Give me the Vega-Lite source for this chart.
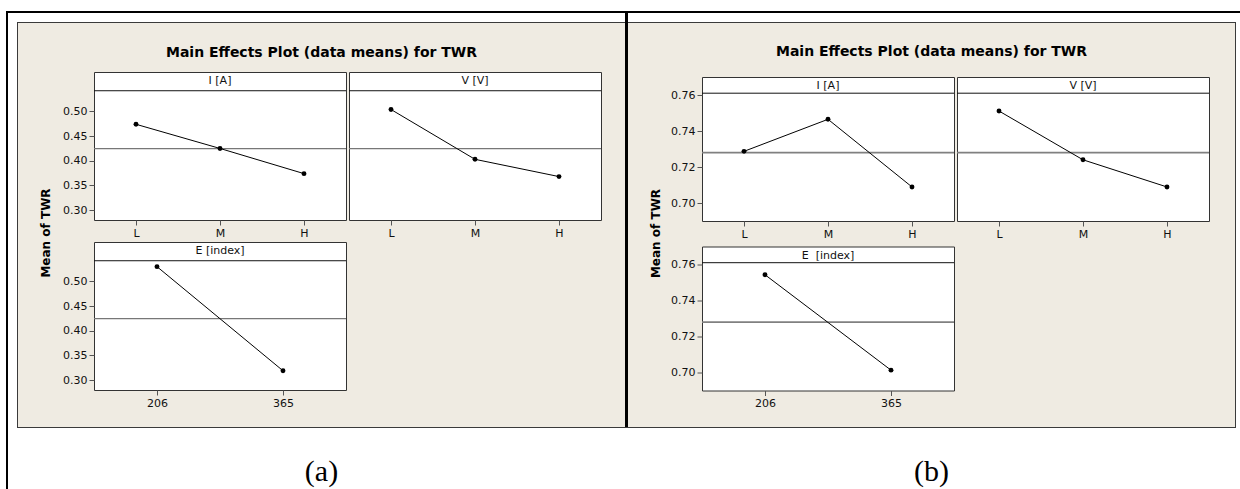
{
  "$schema": "https://vega.github.io/schema/vega-lite/v6.json",
  "padding": 0,
  "background": "#efebe2",
  "config": {"view": {"stroke": null}, "font": "DejaVu Sans"},
  "datasets": {
    "a": [
      {"factor": "I", "level": "L", "twr": 0.474},
      {"factor": "I", "level": "M", "twr": 0.425},
      {"factor": "I", "level": "H", "twr": 0.374},
      {"factor": "V", "level": "L", "twr": 0.504},
      {"factor": "V", "level": "M", "twr": 0.403},
      {"factor": "V", "level": "H", "twr": 0.368},
      {"factor": "E", "level": "206", "twr": 0.530},
      {"factor": "E", "level": "365", "twr": 0.319}
    ],
    "b": [
      {"factor": "I", "level": "L", "twr": 0.7287},
      {"factor": "I", "level": "M", "twr": 0.7465},
      {"factor": "I", "level": "H", "twr": 0.7089},
      {"factor": "V", "level": "L", "twr": 0.7511},
      {"factor": "V", "level": "M", "twr": 0.7240},
      {"factor": "V", "level": "H", "twr": 0.7089},
      {"factor": "E", "level": "206", "twr": 0.7543},
      {"factor": "E", "level": "365", "twr": 0.7013}
    ],
    "means": [{"fig": "a", "mean": 0.4245}, {"fig": "b", "mean": 0.728}]
  },
  "spacing": 0,
  "vconcat": [
    {"width": 1240, "height": 11, "view": {"fill": "#ffffff"}, "data": {"values": []}, "mark": "point", "encoding": {}},
    {"spacing": 0, "hconcat": [
      {"width": 6, "height": 2, "view": {"fill": "#ffffff"}, "data": {"values": []}, "mark": "point", "encoding": {}},
      {"width": 1234, "height": 2, "view": {"fill": "#000000"}, "data": {"values": []}, "mark": "point", "encoding": {}}
    ]},
    {"spacing": 0, "hconcat": [
      {"width": 6, "height": 9, "view": {"fill": "#ffffff"}, "data": {"values": []}, "mark": "point", "encoding": {}},
      {"width": 2, "height": 9, "view": {"fill": "#000000"}, "data": {"values": []}, "mark": "point", "encoding": {}},
      {"width": 617, "height": 9, "view": {"fill": "#ffffff"}, "data": {"values": []}, "mark": "point", "encoding": {}},
      {"width": 3, "height": 9, "view": {"fill": "#000000"}, "data": {"values": []}, "mark": "point", "encoding": {}},
      {"width": 612, "height": 9, "view": {"fill": "#ffffff"}, "data": {"values": []}, "mark": "point", "encoding": {}}
    ]},
    {"spacing": 0, "hconcat": [
      {"width": 6, "height": 1, "view": {"fill": "#ffffff"}, "data": {"values": []}, "mark": "point", "encoding": {}},
      {"width": 2, "height": 1, "view": {"fill": "#000000"}, "data": {"values": []}, "mark": "point", "encoding": {}},
      {"width": 9, "height": 1, "view": {"fill": "#ffffff"}, "data": {"values": []}, "mark": "point", "encoding": {}},
      {"width": 608, "height": 1, "view": {"fill": "#3a3a3a"}, "data": {"values": []}, "mark": "point", "encoding": {}},
      {"width": 3, "height": 1, "view": {"fill": "#000000"}, "data": {"values": []}, "mark": "point", "encoding": {}},
      {"width": 608, "height": 1, "view": {"fill": "#3a3a3a"}, "data": {"values": []}, "mark": "point", "encoding": {}},
      {"width": 4, "height": 1, "view": {"fill": "#ffffff"}, "data": {"values": []}, "mark": "point", "encoding": {}}
    ]},
    {"spacing": 0, "hconcat": [
      {"width": 6, "height": 404, "view": {"fill": "#ffffff"}, "data": {"values": []}, "mark": "point", "encoding": {}},
      {"width": 2, "height": 404, "view": {"fill": "#000000"}, "data": {"values": []}, "mark": "point", "encoding": {}},
      {"width": 9, "height": 404, "view": {"fill": "#ffffff"}, "data": {"values": []}, "mark": "point", "encoding": {}},
      {"width": 1, "height": 404, "view": {"fill": "#3a3a3a"}, "data": {"values": []}, "mark": "point", "encoding": {}},
      {"spacing": 0, "vconcat": [
        {"width": 607, "height": 47.5, "data": {"values": [{"label": "Main Effects Plot (data means) for TWR"}]}, "mark": {"type": "text", "font": "DejaVu Sans", "fontSize": 14, "fontWeight": "bold", "color": "#000", "baseline": "middle", "dy": 6}, "encoding": {"text": {"field": "label", "type": "nominal"}}},
        {"spacing": 0, "hconcat": [
          {"width": 22, "height": 1, "data": {"values": []}, "mark": "point", "encoding": {}},
          {"spacing": 10, "hconcat": [
            {"width": 12, "height": 322, "data": {"values": [{"label": "Mean of TWR"}]}, "mark": {"type": "text", "angle": 270, "font": "DejaVu Sans", "fontSize": 12, "fontWeight": "bold", "color": "#000", "baseline": "middle", "align": "center"}, "encoding": {"text": {"field": "label", "type": "nominal"}}},
            {
            "spacing": 2,
            "vconcat": [
              {"spacing": -1, "hconcat": [
                {
                  "width": 252, "height": 148,
                  "view": {"stroke": "#333", "strokeWidth": 1, "fill": "white"},
                  "title": {"text": "I [A]", "orient": "top", "anchor": "middle", "frame": "group", "offset": -14, "font": "DejaVu Sans", "fontSize": 11, "fontWeight": "normal", "color": "#111"},
                  "layer": [
                    {"data": {"name": "means"}, "transform": [{"filter": "datum.fig === 'a'"}], "mark": {"type": "rule", "color": "#777", "strokeWidth": 1.3}, "encoding": {"y": {"field": "mean", "type": "quantitative", "scale": {"domain": [0.297, 0.573]}, "axis": {"values": [0.3, 0.35, 0.4, 0.45, 0.5], "format": ".2f", "title": null, "grid": false, "domain": false, "tickSize": 5, "tickColor": "#555", "labelFont": "DejaVu Sans", "labelFontSize": 11, "labelColor": "#111", "labelPadding": 2}}}},
                    {"data": {"name": "means"}, "transform": [{"filter": "datum.fig === 'a'"}], "mark": {"type": "rule", "color": "#111", "strokeWidth": 1}, "encoding": {"y": {"datum": 0.542, "type": "quantitative", "axis": {"values": [0.3, 0.35, 0.4, 0.45, 0.5], "format": ".2f", "title": null, "grid": false, "domain": false, "tickSize": 5, "tickColor": "#555", "labelFont": "DejaVu Sans", "labelFontSize": 11, "labelColor": "#111", "labelPadding": 2}}}},
                    {"data": {"name": "a"}, "transform": [{"filter": "datum.factor === 'I'"}], "mark": {"type": "line", "color": "#000", "strokeWidth": 1}, "encoding": {"x": {"field": "level", "type": "nominal", "sort": ["L", "M", "H"], "axis": {"title": null, "labelAngle": 0, "grid": false, "domain": false, "tickSize": 5, "tickColor": "#555", "labelFont": "DejaVu Sans", "labelFontSize": 11, "labelColor": "#111", "labelPadding": 2}}, "y": {"field": "twr", "type": "quantitative", "scale": {"domain": [0.297, 0.573]}, "axis": {"values": [0.3, 0.35, 0.4, 0.45, 0.5], "format": ".2f", "title": null, "grid": false, "domain": false, "tickSize": 5, "tickColor": "#555", "labelFont": "DejaVu Sans", "labelFontSize": 11, "labelColor": "#111", "labelPadding": 2}}}},
                    {"data": {"name": "a"}, "transform": [{"filter": "datum.factor === 'I'"}], "mark": {"type": "point", "filled": true, "color": "#000", "size": 24, "opacity": 1}, "encoding": {"x": {"field": "level", "type": "nominal", "sort": ["L", "M", "H"], "axis": {"title": null, "labelAngle": 0, "grid": false, "domain": false, "tickSize": 5, "tickColor": "#555", "labelFont": "DejaVu Sans", "labelFontSize": 11, "labelColor": "#111", "labelPadding": 2}}, "y": {"field": "twr", "type": "quantitative", "scale": {"domain": [0.297, 0.573]}, "axis": {"values": [0.3, 0.35, 0.4, 0.45, 0.5], "format": ".2f", "title": null, "grid": false, "domain": false, "tickSize": 5, "tickColor": "#555", "labelFont": "DejaVu Sans", "labelFontSize": 11, "labelColor": "#111", "labelPadding": 2}}}}
                  ]
                },
                {
                  "width": 252, "height": 148,
                  "view": {"stroke": "#333", "strokeWidth": 1, "fill": "white"},
                  "title": {"text": "V [V]", "orient": "top", "anchor": "middle", "frame": "group", "offset": -14, "font": "DejaVu Sans", "fontSize": 11, "fontWeight": "normal", "color": "#111"},
                  "layer": [
                    {"data": {"name": "means"}, "transform": [{"filter": "datum.fig === 'a'"}], "mark": {"type": "rule", "color": "#777", "strokeWidth": 1.3}, "encoding": {"y": {"field": "mean", "type": "quantitative", "scale": {"domain": [0.297, 0.573]}, "axis": null}}},
                    {"data": {"name": "means"}, "transform": [{"filter": "datum.fig === 'a'"}], "mark": {"type": "rule", "color": "#111", "strokeWidth": 1}, "encoding": {"y": {"datum": 0.542, "type": "quantitative", "axis": null}}},
                    {"data": {"name": "a"}, "transform": [{"filter": "datum.factor === 'V'"}], "mark": {"type": "line", "color": "#000", "strokeWidth": 1}, "encoding": {"x": {"field": "level", "type": "nominal", "sort": ["L", "M", "H"], "axis": {"title": null, "labelAngle": 0, "grid": false, "domain": false, "tickSize": 5, "tickColor": "#555", "labelFont": "DejaVu Sans", "labelFontSize": 11, "labelColor": "#111", "labelPadding": 2}}, "y": {"field": "twr", "type": "quantitative", "scale": {"domain": [0.297, 0.573]}, "axis": null}}},
                    {"data": {"name": "a"}, "transform": [{"filter": "datum.factor === 'V'"}], "mark": {"type": "point", "filled": true, "color": "#000", "size": 24, "opacity": 1}, "encoding": {"x": {"field": "level", "type": "nominal", "sort": ["L", "M", "H"], "axis": {"title": null, "labelAngle": 0, "grid": false, "domain": false, "tickSize": 5, "tickColor": "#555", "labelFont": "DejaVu Sans", "labelFontSize": 11, "labelColor": "#111", "labelPadding": 2}}, "y": {"field": "twr", "type": "quantitative", "scale": {"domain": [0.297, 0.573]}, "axis": null}}}
                  ]
                }
              ]},
              {
                "width": 252, "height": 148,
                "view": {"stroke": "#333", "strokeWidth": 1, "fill": "white"},
                "title": {"text": "E [index]", "orient": "top", "anchor": "middle", "frame": "group", "offset": -14, "font": "DejaVu Sans", "fontSize": 11, "fontWeight": "normal", "color": "#111"},
                "layer": [
                  {"data": {"name": "means"}, "transform": [{"filter": "datum.fig === 'a'"}], "mark": {"type": "rule", "color": "#777", "strokeWidth": 1.3}, "encoding": {"y": {"field": "mean", "type": "quantitative", "scale": {"domain": [0.297, 0.573]}, "axis": {"values": [0.3, 0.35, 0.4, 0.45, 0.5], "format": ".2f", "title": null, "grid": false, "domain": false, "tickSize": 5, "tickColor": "#555", "labelFont": "DejaVu Sans", "labelFontSize": 11, "labelColor": "#111", "labelPadding": 2}}}},
                  {"data": {"name": "means"}, "transform": [{"filter": "datum.fig === 'a'"}], "mark": {"type": "rule", "color": "#111", "strokeWidth": 1}, "encoding": {"y": {"datum": 0.542, "type": "quantitative", "axis": {"values": [0.3, 0.35, 0.4, 0.45, 0.5], "format": ".2f", "title": null, "grid": false, "domain": false, "tickSize": 5, "tickColor": "#555", "labelFont": "DejaVu Sans", "labelFontSize": 11, "labelColor": "#111", "labelPadding": 2}}}},
                  {"data": {"name": "a"}, "transform": [{"filter": "datum.factor === 'E'"}], "mark": {"type": "line", "color": "#000", "strokeWidth": 1}, "encoding": {"x": {"field": "level", "type": "nominal", "sort": ["206", "365"], "axis": {"title": null, "labelAngle": 0, "grid": false, "domain": false, "tickSize": 5, "tickColor": "#555", "labelFont": "DejaVu Sans", "labelFontSize": 11, "labelColor": "#111", "labelPadding": 2}}, "y": {"field": "twr", "type": "quantitative", "scale": {"domain": [0.297, 0.573]}, "axis": {"values": [0.3, 0.35, 0.4, 0.45, 0.5], "format": ".2f", "title": null, "grid": false, "domain": false, "tickSize": 5, "tickColor": "#555", "labelFont": "DejaVu Sans", "labelFontSize": 11, "labelColor": "#111", "labelPadding": 2}}}},
                  {"data": {"name": "a"}, "transform": [{"filter": "datum.factor === 'E'"}], "mark": {"type": "point", "filled": true, "color": "#000", "size": 24, "opacity": 1}, "encoding": {"x": {"field": "level", "type": "nominal", "sort": ["206", "365"], "axis": {"title": null, "labelAngle": 0, "grid": false, "domain": false, "tickSize": 5, "tickColor": "#555", "labelFont": "DejaVu Sans", "labelFontSize": 11, "labelColor": "#111", "labelPadding": 2}}, "y": {"field": "twr", "type": "quantitative", "scale": {"domain": [0.297, 0.573]}, "axis": {"values": [0.3, 0.35, 0.4, 0.45, 0.5], "format": ".2f", "title": null, "grid": false, "domain": false, "tickSize": 5, "tickColor": "#555", "labelFont": "DejaVu Sans", "labelFontSize": 11, "labelColor": "#111", "labelPadding": 2}}}}
                ]
              }
            ]
            }
          ]}
        ]}
      ]},
      {"width": 3, "height": 404, "view": {"fill": "#000000"}, "data": {"values": []}, "mark": "point", "encoding": {}},
      {"spacing": 0, "vconcat": [
        {"width": 607, "height": 52.5, "data": {"values": [{"label": "Main Effects Plot (data means) for TWR"}]}, "mark": {"type": "text", "font": "DejaVu Sans", "fontSize": 14, "fontWeight": "bold", "color": "#000", "baseline": "middle", "dy": 3}, "encoding": {"text": {"field": "label", "type": "nominal"}}},
        {"spacing": 0, "hconcat": [
          {"width": 22, "height": 1, "data": {"values": []}, "mark": "point", "encoding": {}},
          {"spacing": 8, "hconcat": [
            {"width": 12, "height": 313, "data": {"values": [{"label": "Mean of TWR"}]}, "mark": {"type": "text", "angle": 270, "font": "DejaVu Sans", "fontSize": 12, "fontWeight": "bold", "color": "#000", "baseline": "middle", "align": "center"}, "encoding": {"text": {"field": "label", "type": "nominal"}}},
            {
            "spacing": 5.5,
            "vconcat": [
              {"spacing": -1, "hconcat": [
                {
                  "width": 252, "height": 144,
                  "view": {"stroke": "#333", "strokeWidth": 1, "fill": "white"},
                  "title": {"text": "I [A]", "orient": "top", "anchor": "middle", "frame": "group", "offset": -14, "font": "DejaVu Sans", "fontSize": 11, "fontWeight": "normal", "color": "#111"},
                  "layer": [
                    {"data": {"name": "means"}, "transform": [{"filter": "datum.fig === 'b'"}], "mark": {"type": "rule", "color": "#808080", "strokeWidth": 1.6}, "encoding": {"y": {"field": "mean", "type": "quantitative", "scale": {"domain": [0.698, 0.769]}, "axis": {"values": [0.7, 0.72, 0.74, 0.76], "format": ".2f", "title": null, "grid": false, "domain": false, "tickSize": 5, "tickColor": "#555", "labelFont": "DejaVu Sans", "labelFontSize": 11, "labelColor": "#111", "labelPadding": 2}}}},
                    {"data": {"name": "means"}, "transform": [{"filter": "datum.fig === 'b'"}], "mark": {"type": "rule", "color": "#111", "strokeWidth": 1}, "encoding": {"y": {"datum": 0.761, "type": "quantitative", "axis": {"values": [0.7, 0.72, 0.74, 0.76], "format": ".2f", "title": null, "grid": false, "domain": false, "tickSize": 5, "tickColor": "#555", "labelFont": "DejaVu Sans", "labelFontSize": 11, "labelColor": "#111", "labelPadding": 2}}}},
                    {"data": {"name": "b"}, "transform": [{"filter": "datum.factor === 'I'"}], "mark": {"type": "line", "color": "#000", "strokeWidth": 1}, "encoding": {"x": {"field": "level", "type": "nominal", "sort": ["L", "M", "H"], "axis": {"title": null, "labelAngle": 0, "grid": false, "domain": false, "tickSize": 5, "tickColor": "#555", "labelFont": "DejaVu Sans", "labelFontSize": 11, "labelColor": "#111", "labelPadding": 2}}, "y": {"field": "twr", "type": "quantitative", "scale": {"domain": [0.698, 0.769]}, "axis": {"values": [0.7, 0.72, 0.74, 0.76], "format": ".2f", "title": null, "grid": false, "domain": false, "tickSize": 5, "tickColor": "#555", "labelFont": "DejaVu Sans", "labelFontSize": 11, "labelColor": "#111", "labelPadding": 2}}}},
                    {"data": {"name": "b"}, "transform": [{"filter": "datum.factor === 'I'"}], "mark": {"type": "point", "filled": true, "color": "#000", "size": 24, "opacity": 1}, "encoding": {"x": {"field": "level", "type": "nominal", "sort": ["L", "M", "H"], "axis": {"title": null, "labelAngle": 0, "grid": false, "domain": false, "tickSize": 5, "tickColor": "#555", "labelFont": "DejaVu Sans", "labelFontSize": 11, "labelColor": "#111", "labelPadding": 2}}, "y": {"field": "twr", "type": "quantitative", "scale": {"domain": [0.698, 0.769]}, "axis": {"values": [0.7, 0.72, 0.74, 0.76], "format": ".2f", "title": null, "grid": false, "domain": false, "tickSize": 5, "tickColor": "#555", "labelFont": "DejaVu Sans", "labelFontSize": 11, "labelColor": "#111", "labelPadding": 2}}}}
                  ]
                },
                {
                  "width": 252, "height": 144,
                  "view": {"stroke": "#333", "strokeWidth": 1, "fill": "white"},
                  "title": {"text": "V [V]", "orient": "top", "anchor": "middle", "frame": "group", "offset": -14, "font": "DejaVu Sans", "fontSize": 11, "fontWeight": "normal", "color": "#111"},
                  "layer": [
                    {"data": {"name": "means"}, "transform": [{"filter": "datum.fig === 'b'"}], "mark": {"type": "rule", "color": "#808080", "strokeWidth": 1.6}, "encoding": {"y": {"field": "mean", "type": "quantitative", "scale": {"domain": [0.698, 0.769]}, "axis": null}}},
                    {"data": {"name": "means"}, "transform": [{"filter": "datum.fig === 'b'"}], "mark": {"type": "rule", "color": "#111", "strokeWidth": 1}, "encoding": {"y": {"datum": 0.761, "type": "quantitative", "axis": null}}},
                    {"data": {"name": "b"}, "transform": [{"filter": "datum.factor === 'V'"}], "mark": {"type": "line", "color": "#000", "strokeWidth": 1}, "encoding": {"x": {"field": "level", "type": "nominal", "sort": ["L", "M", "H"], "axis": {"title": null, "labelAngle": 0, "grid": false, "domain": false, "tickSize": 5, "tickColor": "#555", "labelFont": "DejaVu Sans", "labelFontSize": 11, "labelColor": "#111", "labelPadding": 2}}, "y": {"field": "twr", "type": "quantitative", "scale": {"domain": [0.698, 0.769]}, "axis": null}}},
                    {"data": {"name": "b"}, "transform": [{"filter": "datum.factor === 'V'"}], "mark": {"type": "point", "filled": true, "color": "#000", "size": 24, "opacity": 1}, "encoding": {"x": {"field": "level", "type": "nominal", "sort": ["L", "M", "H"], "axis": {"title": null, "labelAngle": 0, "grid": false, "domain": false, "tickSize": 5, "tickColor": "#555", "labelFont": "DejaVu Sans", "labelFontSize": 11, "labelColor": "#111", "labelPadding": 2}}, "y": {"field": "twr", "type": "quantitative", "scale": {"domain": [0.698, 0.769]}, "axis": null}}}
                  ]
                }
              ]},
              {
                "width": 252, "height": 144,
                "view": {"stroke": "#333", "strokeWidth": 1, "fill": "white"},
                "title": {"text": "E\u00a0 [index]", "orient": "top", "anchor": "middle", "frame": "group", "offset": -14, "font": "DejaVu Sans", "fontSize": 11, "fontWeight": "normal", "color": "#111"},
                "layer": [
                  {"data": {"name": "means"}, "transform": [{"filter": "datum.fig === 'b'"}], "mark": {"type": "rule", "color": "#808080", "strokeWidth": 1.6}, "encoding": {"y": {"field": "mean", "type": "quantitative", "scale": {"domain": [0.698, 0.769]}, "axis": {"values": [0.7, 0.72, 0.74, 0.76], "format": ".2f", "title": null, "grid": false, "domain": false, "tickSize": 5, "tickColor": "#555", "labelFont": "DejaVu Sans", "labelFontSize": 11, "labelColor": "#111", "labelPadding": 2}}}},
                  {"data": {"name": "means"}, "transform": [{"filter": "datum.fig === 'b'"}], "mark": {"type": "rule", "color": "#111", "strokeWidth": 1}, "encoding": {"y": {"datum": 0.761, "type": "quantitative", "axis": {"values": [0.7, 0.72, 0.74, 0.76], "format": ".2f", "title": null, "grid": false, "domain": false, "tickSize": 5, "tickColor": "#555", "labelFont": "DejaVu Sans", "labelFontSize": 11, "labelColor": "#111", "labelPadding": 2}}}},
                  {"data": {"name": "b"}, "transform": [{"filter": "datum.factor === 'E'"}], "mark": {"type": "line", "color": "#000", "strokeWidth": 1}, "encoding": {"x": {"field": "level", "type": "nominal", "sort": ["206", "365"], "axis": {"title": null, "labelAngle": 0, "grid": false, "domain": false, "tickSize": 5, "tickColor": "#555", "labelFont": "DejaVu Sans", "labelFontSize": 11, "labelColor": "#111", "labelPadding": 2}}, "y": {"field": "twr", "type": "quantitative", "scale": {"domain": [0.698, 0.769]}, "axis": {"values": [0.7, 0.72, 0.74, 0.76], "format": ".2f", "title": null, "grid": false, "domain": false, "tickSize": 5, "tickColor": "#555", "labelFont": "DejaVu Sans", "labelFontSize": 11, "labelColor": "#111", "labelPadding": 2}}}},
                  {"data": {"name": "b"}, "transform": [{"filter": "datum.factor === 'E'"}], "mark": {"type": "point", "filled": true, "color": "#000", "size": 24, "opacity": 1}, "encoding": {"x": {"field": "level", "type": "nominal", "sort": ["206", "365"], "axis": {"title": null, "labelAngle": 0, "grid": false, "domain": false, "tickSize": 5, "tickColor": "#555", "labelFont": "DejaVu Sans", "labelFontSize": 11, "labelColor": "#111", "labelPadding": 2}}, "y": {"field": "twr", "type": "quantitative", "scale": {"domain": [0.698, 0.769]}, "axis": {"values": [0.7, 0.72, 0.74, 0.76], "format": ".2f", "title": null, "grid": false, "domain": false, "tickSize": 5, "tickColor": "#555", "labelFont": "DejaVu Sans", "labelFontSize": 11, "labelColor": "#111", "labelPadding": 2}}}}
                ]
              }
            ]
            }
          ]}
        ]}
      ]},
      {"width": 1, "height": 404, "view": {"fill": "#3a3a3a"}, "data": {"values": []}, "mark": "point", "encoding": {}},
      {"width": 4, "height": 404, "view": {"fill": "#ffffff"}, "data": {"values": []}, "mark": "point", "encoding": {}}
    ]},
    {"spacing": 0, "hconcat": [
      {"width": 6, "height": 1, "view": {"fill": "#ffffff"}, "data": {"values": []}, "mark": "point", "encoding": {}},
      {"width": 2, "height": 1, "view": {"fill": "#000000"}, "data": {"values": []}, "mark": "point", "encoding": {}},
      {"width": 9, "height": 1, "view": {"fill": "#ffffff"}, "data": {"values": []}, "mark": "point", "encoding": {}},
      {"width": 608, "height": 1, "view": {"fill": "#3a3a3a"}, "data": {"values": []}, "mark": "point", "encoding": {}},
      {"width": 3, "height": 1, "view": {"fill": "#3a3a3a"}, "data": {"values": []}, "mark": "point", "encoding": {}},
      {"width": 608, "height": 1, "view": {"fill": "#3a3a3a"}, "data": {"values": []}, "mark": "point", "encoding": {}},
      {"width": 4, "height": 1, "view": {"fill": "#ffffff"}, "data": {"values": []}, "mark": "point", "encoding": {}}
    ]},
    {"spacing": 0, "hconcat": [
      {"width": 6, "height": 61, "view": {"fill": "#ffffff"}, "data": {"values": []}, "mark": "point", "encoding": {}},
      {"width": 2, "height": 61, "view": {"fill": "#000000"}, "data": {"values": []}, "mark": "point", "encoding": {}},
      {"width": 10, "height": 61, "view": {"fill": "#ffffff"}, "data": {"values": []}, "mark": "point", "encoding": {}},
      {"width": 607, "height": 61, "view": {"fill": "#ffffff"}, "data": {"values": [{"label": "(a)"}]}, "mark": {"type": "text", "font": "Liberation Serif", "fontSize": 30, "color": "#000", "baseline": "middle", "dy": 13}, "encoding": {"text": {"field": "label", "type": "nominal"}}},
      {"width": 3, "height": 61, "view": {"fill": "#ffffff"}, "data": {"values": []}, "mark": "point", "encoding": {}},
      {"width": 607, "height": 61, "view": {"fill": "#ffffff"}, "data": {"values": [{"label": "(b)"}]}, "mark": {"type": "text", "font": "Liberation Serif", "fontSize": 30, "color": "#000", "baseline": "middle", "dy": 13}, "encoding": {"text": {"field": "label", "type": "nominal"}}},
      {"width": 5, "height": 61, "view": {"fill": "#ffffff"}, "data": {"values": []}, "mark": "point", "encoding": {}}
    ]}
  ]
}
